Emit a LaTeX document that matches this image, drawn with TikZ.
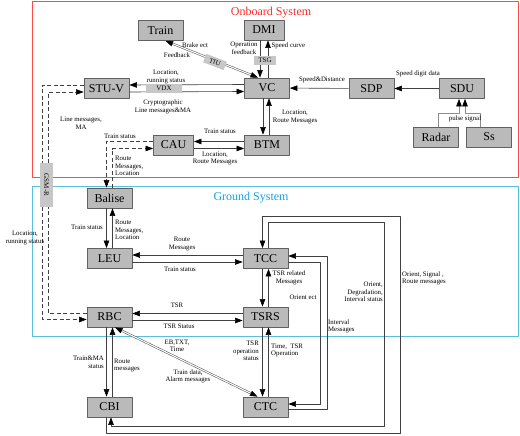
\documentclass[tikz,border=0pt]{standalone}
\usepackage{fontspec}
\setmainfont{Liberation Serif}
\usetikzlibrary{arrows.meta}
\definecolor{onb}{RGB}{255,40,40}
\definecolor{gnd}{RGB}{20,160,225}
\definecolor{gndline}{RGB}{90,190,222}
\begin{document}
\begin{tikzpicture}[x=1pt, y=-1pt, line join=round, >={Triangle[length=7.5pt,width=5.5pt,color=black]},
	box/.style={draw=black!62, fill=black!27, line width=0.8pt, minimum width=45pt, minimum height=20pt, inner sep=0pt, font=\fontsize{12}{12}\selectfont},
	tag/.style={fill=black!22, inner sep=0pt, font=\fontsize{7}{7}\selectfont},
	lab/.style={inner sep=0pt, align=center, font=\fontsize{6.8}{7.6}\selectfont},
	link/.style={->, draw=black!75, line width=0.6pt},
	dlink/.style={link, dash pattern=on 4pt off 2.5pt},
	dbl/.style={<->, draw=black!70, double=white, double distance=1.1pt, line width=0.5pt}]
				\useasboundingbox (0,0) rectangle (520,436);
				\draw[onb!85, line width=0.7pt] (32,1.5) rectangle (518,177);
				\draw[gndline, line width=0.7pt] (32,186) rectangle (518,336);
				\node[text=onb, font=\fontsize{12}{12}\selectfont] (ttlon) at (271,13) {Onboard System};
				\node[text=gnd, font=\fontsize{12}{12}\selectfont] (ttlgr) at (251,198) {Ground System};
				%onboard
				\node[box] (train) at (160.5,30.5) {Train};
				\node[box, minimum width=40pt] (dmi) at (264,30) {DMI};
				\node[box] (vc) at (267,88) {VC};
				\node[box] (stuv) at (106.5,88.5) {STU-V};
				\node[box] (sdp) at (371.5,88.5) {SDP};
				\node[box] (sdu) at (462,88.5) {SDU};
				\node[box] (radar) at (436,137) {Radar};
				\node[box] (ss) at (489,137) {Ss};
				\node[box, minimum width=40pt] (cau) at (173.5,145) {CAU};
				\node[box] (btm) at (267,145) {BTM};
				%ground
				\node[box] (balise) at (109.5,198) {Balise};
				\node[box] (leu) at (109.5,258.5) {LEU};
				\node[box] (tcc) at (265.5,258.5) {TCC};
				\node[box] (tsrs) at (265.5,317) {TSRS};
				\node[box] (rbc) at (109.5,317) {RBC};
				\node[box] (cbi) at (109.5,407) {CBI};
				\node[box] (ctc) at (265.5,407) {CTC};
				%onboard links
				\draw[dbl] ([xshift=5pt]train.south) -- ([xshift=-9pt]vc.north);
				\node[tag, rotate=-21, minimum width=22pt, minimum height=9pt] (tiu) at (215,62) {TIU};
				\draw[link] ([xshift=-4pt]dmi.south) -- ([xshift=-4pt]dmi.south |- vc.north);
				\draw[link] ([xshift=4pt]dmi.south |- vc.north) -- ([xshift=4pt]dmi.south);
				\node[tag, minimum width=22pt, minimum height=9pt] (tsg) at (265,60.5) {TSG};
				\draw[link] ([yshift=3.5pt]vc.west) -- ([yshift=3.5pt]stuv.east);
				\draw[link] ([yshift=-3.5pt]stuv.east) -- ([yshift=-3.5pt]vc.west);
				\node[tag, minimum width=36pt, minimum height=9pt] (vdx) at (164,88.5) {VDX};
				\draw[link] ([xshift=-4pt]vc.south) -- ([xshift=-4pt]vc.south |- btm.north);
				\draw[link] ([xshift=2pt]vc.south |- btm.north) -- ([xshift=2pt]vc.south);
				\draw[link] (sdp) -- (vc);
				\draw[link] (sdu) -- (sdp);
				\draw[link, draw=black!45] ([xshift=2pt]radar.north) -- ++(0,-13) -| ([xshift=-3pt]sdu.south);
				\draw[link, draw=black!45] ([xshift=-9pt]ss.north) -- ++(0,-13) -| ([xshift=3pt]sdu.south);
				\draw[link] ([yshift=3.5pt]btm.west) -- ([yshift=3.5pt]cau.east);
				\draw[link] ([yshift=-3.5pt]cau.east) -- ([yshift=-3.5pt]btm.west);
				\draw[dlink] ([yshift=3.5pt]cau.west) -| ([xshift=-3pt]balise.north);
				\draw[dlink] ([xshift=3pt]balise.north) |- ([yshift=-3.5pt]cau.west);
				\draw[dlink] ([yshift=3.5pt]stuv.west) -- ++(-41,0) |- ([yshift=-2.5pt]rbc.west);
				\draw[dlink] ([yshift=3.5pt]rbc.west) -- ++(-38,0) |- ([yshift=-3.5pt]stuv.west);
				\node[tag, rotate=-90, minimum width=44pt, minimum height=13pt] (gsmr) at (46.5,185) {GSM-R};
				%ground links
				\draw[link] ([xshift=-3pt]balise.south) -- ([xshift=-3pt]leu.north);
				\draw[link] ([xshift=3pt]leu.north) -- ([xshift=3pt]balise.south);
				\draw[link] ([yshift=3.5pt]tcc.west) -- ([yshift=3.5pt]leu.east);
				\draw[link] ([yshift=-3.5pt]leu.east) -- ([yshift=-3.5pt]tcc.west);
				\draw[link] ([yshift=3.5pt]tsrs.west) -- ([yshift=3.5pt]rbc.east);
				\draw[link] ([yshift=-3.5pt]rbc.east) -- ([yshift=-3.5pt]tsrs.west);
				\draw[link] ([xshift=-3pt]tcc.south) -- ([xshift=-3pt]tsrs.north);
				\draw[link] ([xshift=3pt]tsrs.north) -- ([xshift=3pt]tcc.south);
				\draw[link] ([xshift=-3pt]tsrs.south) -- ([xshift=-3pt]ctc.north);
				\draw[link] ([xshift=3pt]ctc.north) -- ([xshift=3pt]tsrs.south);
				\draw[link] ([xshift=-3pt]rbc.south) -- ([xshift=-3pt]cbi.north);
				\draw[link] ([xshift=3pt]cbi.north) -- ([xshift=3pt]rbc.south);
				\draw[dbl] ([xshift=5.5pt]rbc.south) -- ([xshift=-8pt]ctc.north);
				\draw[link] ([yshift=-3.5pt]tcc.east) -- ++(32,0) |- ([yshift=3pt]ctc.east);
				\draw[link] ([yshift=-2pt]ctc.east) -- ++(39,0) |- ([yshift=2.5pt]tcc.east);
				\draw[link] ([xshift=3pt]tcc.north) -- ++(0,-26) -- ++(116,0) -- ++(0,204) -| ([xshift=1.5pt]cbi.south);
				\draw[link] ([xshift=-3pt]cbi.south) -- ++(0,16) -- ++(294,0) -- ++(0,-217) -| ([xshift=-3pt]tcc.north);
				%labels
				\node[lab] (lbrake) at (195,45) {Brake ect};
				\node[lab] (lfeed) at (177,55) {Feedback};
				\node[lab] (lopfb) at (244,48) {Operation\\feedback};
				\node[lab, anchor=west] (lcurve) at (271.5,45.5) {Speed curve};
				\node[lab] (lloc1) at (166,77) {Location,\\running status};
				\node[lab] (lcrypt) at (163,107) {Cryptographic\\Line messages\&MA};
				\node[lab] (lsd) at (322,80) {Speed\&Distance};
				\node[lab] (lsdd) at (418,74) {Speed digit data};
				\node[lab] (lbtm) at (295,117) {Location,\\Route Messages};
				\node[lab] (lpulse) at (465,119) {pulse signal};
				\node[lab] (lts1) at (220,131) {Train status};
				\node[lab] (lrm1) at (215,158.5) {Location,\\Route Messages};
				\node[lab] (lts2) at (120,136) {Train status};
				\node[lab, anchor=west, align=left] (lrm2) at (115,166) {Route\\Messages,\\Location};
				\node[lab] (lline) at (81,123) {Line messages,\\MA};
				\node[lab] (lloc2) at (25,238) {Location,\\running status};
				\node[lab] (lts3) at (87,227) {Train status};
				\node[lab, anchor=west, align=left] (lrm3) at (115,230) {Route\\Messages,\\Location};
				\node[lab] (lrm4) at (182,244) {Route\\Messages};
				\node[lab] (lts4) at (180,269) {Train status};
				\node[lab] (ltsrrel) at (289,278) {TSR related\\Messages};
				\node[lab, anchor=west, align=left] (lorsig) at (402,278.5) {Orient, Signal ,\\Route messages};
				\node[lab, anchor=east, align=right] (lordeg) at (383,292) {Orient,\\Degradation,\\Interval status};
				\node[lab] (lorect) at (303,297) {Orient ect};
				\node[lab] (ltsr) at (177,305) {TSR};
				\node[lab] (ltsrst) at (179,326) {TSR Status};
				\node[lab, anchor=west, align=left] (lint) at (328,326.5) {Interval\\Messages};
				\node[lab] (leb) at (177,346) {EB,TXT,\\Time};
				\node[lab, anchor=east, align=right] (ltsrop) at (259,351) {TSR\\operation\\status};
				\node[lab, anchor=west, align=left] (ltime) at (271,350.5) {Time,\ \ TSR\\Operation};
				\node[lab, anchor=east, align=right] (ltma) at (104,362.5) {Train\&MA\\status};
				\node[lab, anchor=west, align=left] (lrm5) at (114,365.5) {Route\\messages};
				\node[lab] (ltd) at (188,376.5) {Train data,\\Alarm messages};
			\end{tikzpicture}
\end{document}
